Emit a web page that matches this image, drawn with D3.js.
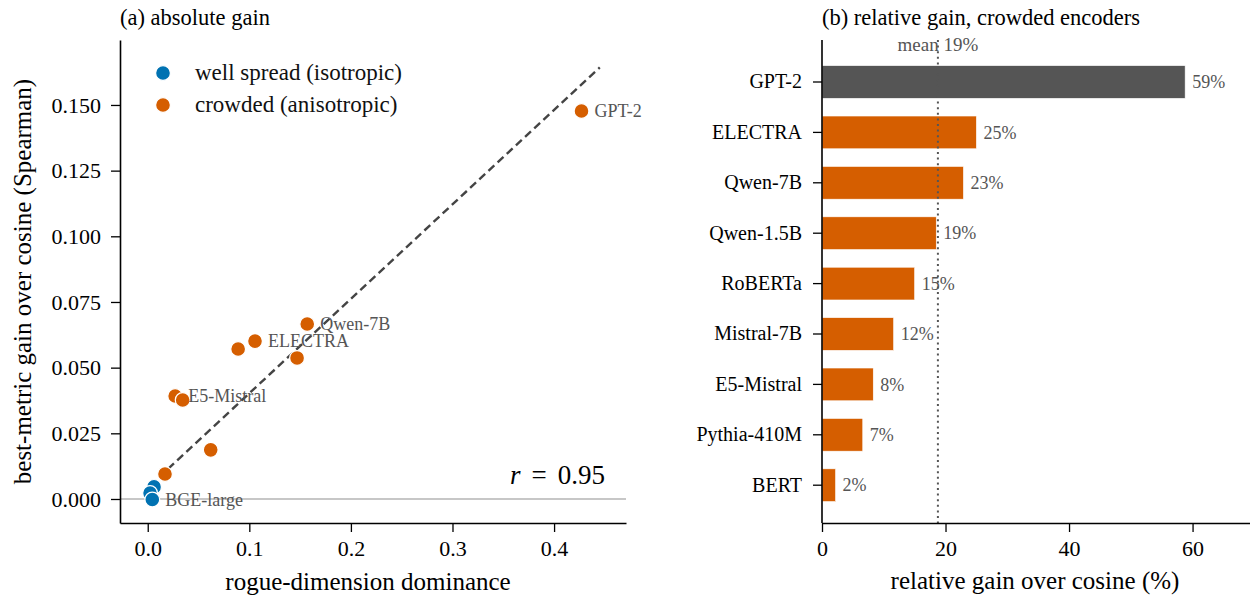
<!DOCTYPE html>
<html><head><meta charset="utf-8">
<script src="https://cdn.jsdelivr.net/npm/d3@7"></script>
<style>
body{margin:0;background:#fff;}
svg, svg text{font-family:"Liberation Serif","Times New Roman",serif;}
</style></head>
<body><svg id="c" width="1250" height="598" font-family="Liberation Serif"></svg>
<script>
// ---------- data: panel (a) ----------
const isoX = [0.0062, 0.0023, 0.0045];
const isoY = [0.0046, 0.0023, -0.0002];
const isoLabel = ["", "", "BGE-large"];
const crowdX = [0.427, 0.157, 0.1056, 0.089, 0.147, 0.027, 0.0344, 0.062, 0.017];
const crowdY = [0.1477, 0.0666, 0.0601, 0.0571, 0.0537, 0.0392, 0.0377, 0.0187, 0.0095];
const crowdLabel = ["GPT-2", "Qwen-7B", "ELECTRA", "", "", "E5-Mistral", "", "", ""];
const fitX = [0.002, 0.445];
const fitY = [0.0050, 0.1643];
const corrR = "0.95";
const xTicksA = [0.0, 0.1, 0.2, 0.3, 0.4];
const yTicksA = [0.000, 0.025, 0.050, 0.075, 0.100, 0.125, 0.150];
const legendLabels = ["well spread (isotropic)", "crowded (anisotropic)"];

// ---------- data: panel (b) ----------
const encoders = ["GPT-2", "ELECTRA", "Qwen-7B", "Qwen-1.5B", "RoBERTa", "Mistral-7B", "E5-Mistral", "Pythia-410M", "BERT"];
const relGain = [58.8, 25.0, 22.9, 18.5, 15.0, 11.6, 8.3, 6.6, 2.2];
const relLabel = ["59%", "25%", "23%", "19%", "15%", "12%", "8%", "7%", "2%"];
const xTicksB = [0, 20, 40, 60];

const BLUE = "#0072B2", ORANGE = "#D55E00", GREY = "#555555";
const FF = "Liberation Serif";
const svg = d3.select("#c");

// ================= panel (a) =================
const A = {l:120, r:626, t:40, b:523};
const xa = d3.scaleLinear().domain([-0.0273, 0.4708]).range([A.l, A.r]);
const ya = d3.scaleLinear().domain([-0.00914, 0.17473]).range([A.b, A.t]);
const ga = svg.append("g");

ga.append("line").attr("x1", A.l).attr("x2", A.r).attr("y1", ya(0)).attr("y2", ya(0))
  .attr("stroke", "#b5b5b5").attr("stroke-width", 1.3);
ga.append("line").attr("x1", xa(fitX[0])).attr("y1", ya(fitY[0])).attr("x2", xa(fitX[1])).attr("y2", ya(fitY[1]))
  .attr("stroke", "#444").attr("stroke-width", 2.4).attr("stroke-dasharray", "8,4.5");

const pts = [];
isoX.forEach((x, i) => pts.push({x, y: isoY[i], lab: isoLabel[i], c: BLUE}));
crowdX.forEach((x, i) => pts.push({x, y: crowdY[i], lab: crowdLabel[i], c: ORANGE}));
ga.selectAll("circle.pt").data(pts).join("circle").attr("class", "pt")
  .attr("cx", d => xa(d.x)).attr("cy", d => ya(d.y)).attr("r", 7.4)
  .attr("fill", d => d.c).attr("stroke", "#fff").attr("stroke-width", 1.2);
ga.selectAll("text.plab").data(pts.filter(d => d.lab)).join("text").attr("class", "plab")
  .attr("x", d => xa(d.x) + 13).attr("y", d => ya(d.y)).attr("dy", "0.34em")
  .attr("font-family", FF).attr("fill", GREY).attr("font-size", 18).text(d => d.lab);

const axA = ga.append("g").attr("transform", `translate(0,${A.b})`)
  .call(d3.axisBottom(xa).tickValues(xTicksA).tickFormat(d3.format(".1f")).tickSizeOuter(0).tickSizeInner(9).tickPadding(8));
const ayA = ga.append("g").attr("transform", `translate(${A.l},0)`)
  .call(d3.axisLeft(ya).tickValues(yTicksA).tickFormat(d3.format(".3f")).tickSizeOuter(0).tickSizeInner(9).tickPadding(10));
[axA, ayA].forEach(g => {
  g.attr("font-family", FF);
  g.select(".domain").attr("stroke", "#000").attr("stroke-width", 1.6);
  g.selectAll(".tick line").attr("stroke", "#000").attr("stroke-width", 1.3);
  g.selectAll(".tick text").attr("font-size", 22).attr("fill", "#000").attr("font-family", FF);
});
legendLabels.forEach((t, i) => {
  const y = 73 + i * 32;
  ga.append("circle").attr("cx", 163).attr("cy", y).attr("r", 7.4).attr("fill", i ? ORANGE : BLUE)
    .attr("stroke", "#fff").attr("stroke-width", 1.2);
  ga.append("text").attr("x", 195).attr("y", y).attr("dy", "0.32em").attr("font-family", FF)
    .attr("font-size", 23).attr("fill", "#111").text(t);
});
const rt = ga.append("text").attr("x", 605).attr("y", 484).attr("text-anchor", "end")
  .attr("font-family", FF).attr("font-size", 27).attr("fill", "#000");
rt.append("tspan").attr("font-style", "italic").text("r");
rt.append("tspan").attr("dx", 11).text("=");
rt.append("tspan").attr("dx", 11).text(corrR);
ga.append("text").attr("x", A.l).attr("y", 25).attr("font-family", FF).attr("font-size", 22.5).attr("fill", "#000").text("(a) absolute gain");
ga.append("text").attr("x", 368).attr("y", 590).attr("text-anchor", "middle").attr("font-family", FF).attr("font-size", 25).text("rogue-dimension dominance");
ga.append("text").attr("transform", `translate(31,${(A.t + A.b) / 2}) rotate(-90)`).attr("text-anchor", "middle")
  .attr("font-family", FF).attr("font-size", 25).text("best-metric gain over cosine (Spearman)");

// ================= panel (b) =================
const B = {l:822, r:1250, t:40, b:523};
const xb = d3.scaleLinear().domain([0, 69.3]).range([B.l, B.r]);
const yb = d3.scaleBand().domain(encoders).range([56.8, 510.4]).paddingInner(0.35).paddingOuter(0.175);
const gb = svg.append("g");
const meanV = d3.mean(relGain);

gb.selectAll("rect.bar").data(encoders).join("rect").attr("class", "bar")
  .attr("x", xb(0)).attr("y", d => yb(d)).attr("height", yb.bandwidth())
  .attr("width", (d, i) => xb(relGain[i]) - xb(0))
  .attr("fill", (d, i) => i === 0 ? GREY : ORANGE).attr("stroke", "#fff").attr("stroke-width", 0.6);
gb.selectAll("text.val").data(encoders).join("text").attr("class", "val")
  .attr("x", (d, i) => xb(relGain[i]) + 7).attr("y", d => yb(d) + yb.bandwidth() / 2).attr("dy", "0.34em")
  .attr("font-family", FF).attr("font-size", 18).attr("fill", GREY).text((d, i) => relLabel[i]);
gb.append("line").attr("x1", xb(meanV)).attr("x2", xb(meanV)).attr("y1", B.t).attr("y2", B.b)
  .attr("stroke", GREY).attr("stroke-width", 2).attr("stroke-dasharray", "2,3.6");
gb.append("text").attr("x", xb(meanV)).attr("y", 51).attr("text-anchor", "middle").attr("font-family", FF).attr("font-size", 19)
  .attr("fill", GREY).text(`mean ${d3.format(".0f")(meanV)}%`);

const axB = gb.append("g").attr("transform", `translate(0,${B.b})`)
  .call(d3.axisBottom(xb).tickValues(xTicksB).tickFormat(d3.format("d")).tickSizeOuter(0).tickSizeInner(9).tickPadding(8));
const ayB = gb.append("g").attr("transform", `translate(${B.l},0)`)
  .call(d3.axisLeft(yb).tickSizeOuter(0).tickSizeInner(9).tickPadding(11));
ayB.select(".domain").attr("d", `M0,${B.t}V${B.b}`);
[axB, ayB].forEach(g => {
  g.attr("font-family", FF);
  g.select(".domain").attr("stroke", "#000").attr("stroke-width", 1.6);
  g.selectAll(".tick line").attr("stroke", "#000").attr("stroke-width", 1.3);
  g.selectAll(".tick text").attr("fill", "#000").attr("font-family", FF);
});
axB.selectAll(".tick text").attr("font-size", 22);
ayB.selectAll(".tick text").attr("font-size", 20);
gb.append("text").attr("x", B.l).attr("y", 25).attr("font-family", FF).attr("font-size", 22.5).text("(b) relative gain, crowded encoders");
gb.append("text").attr("x", 1035).attr("y", 589).attr("text-anchor", "middle").attr("font-family", FF).attr("font-size", 25).text("relative gain over cosine (%)");
</script></body></html>
